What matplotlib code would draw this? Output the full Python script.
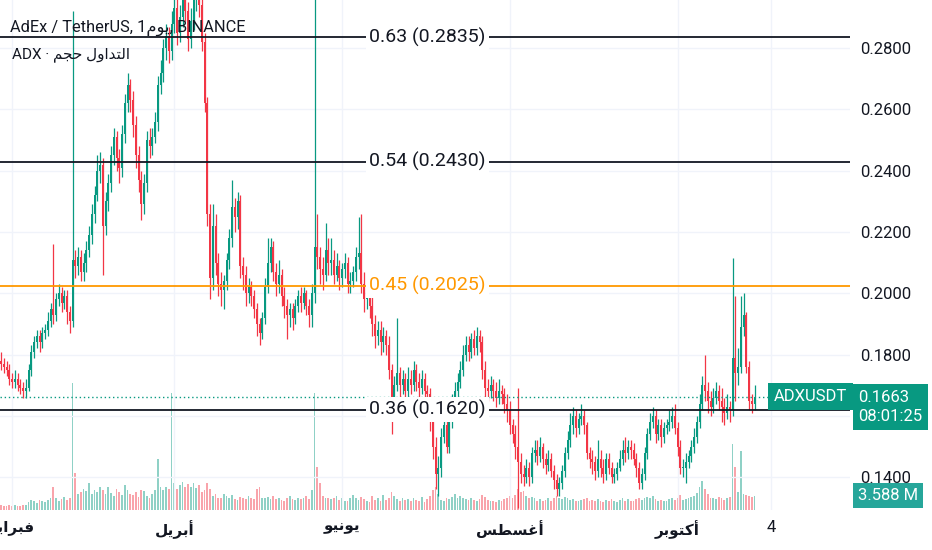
import matplotlib
matplotlib.use("Agg")
import matplotlib.pyplot as plt
from matplotlib.transforms import blended_transform_factory
import numpy as np
import pandas as pd

plt.rcParams['font.family'] = ['Roboto', 'DejaVu Sans']

# daily candles, ADX/USDT
start_date = '2023-01-28'
first_open = 0.178

closes = [
    0.177, 0.176, 0.175, 0.172, 0.171, 0.172, 0.170, 0.169, 0.168, 0.169,
    0.175, 0.181, 0.184, 0.186, 0.184, 0.187, 0.188, 0.191, 0.195, 0.193,
    0.198, 0.200, 0.197, 0.199, 0.194, 0.191, 0.211, 0.209, 0.212, 0.207,
    0.210, 0.214, 0.219, 0.226, 0.232, 0.240, 0.242, 0.222, 0.230, 0.236,
    0.245, 0.251, 0.244, 0.241, 0.252, 0.262, 0.268, 0.263, 0.255, 0.245,
    0.237, 0.229, 0.236, 0.250, 0.248, 0.251, 0.256, 0.268, 0.272, 0.280,
    0.284, 0.279, 0.288, 0.293, 0.285, 0.290, 0.298, 0.292, 0.283, 0.289,
    0.296, 0.300, 0.294, 0.282, 0.262, 0.226, 0.205, 0.222, 0.210, 0.203,
    0.201, 0.204, 0.211, 0.218, 0.228, 0.225, 0.230, 0.209, 0.206, 0.200,
    0.202, 0.199, 0.195, 0.190, 0.187, 0.192, 0.202, 0.210, 0.215, 0.207,
    0.203, 0.206, 0.199, 0.196, 0.193, 0.195, 0.192, 0.196, 0.199, 0.197,
    0.200, 0.196, 0.193, 0.200, 0.215, 0.212, 0.208, 0.206, 0.214, 0.210,
    0.211, 0.206, 0.209, 0.205, 0.208, 0.210, 0.203, 0.204, 0.207, 0.212,
    0.213, 0.203, 0.198, 0.200, 0.196, 0.190, 0.186, 0.188, 0.184, 0.186,
    0.183, 0.175, 0.166, 0.170, 0.174, 0.170, 0.172, 0.168, 0.172, 0.170,
    0.175, 0.171, 0.169, 0.172, 0.168, 0.167, 0.158, 0.150, 0.141, 0.143,
    0.153, 0.157, 0.150, 0.158, 0.164, 0.168, 0.171, 0.175, 0.180, 0.183,
    0.181, 0.185, 0.182, 0.186, 0.184, 0.175, 0.169, 0.168, 0.170, 0.168,
    0.166, 0.168, 0.167, 0.164, 0.162, 0.157, 0.154, 0.150, 0.145, 0.141,
    0.140, 0.143, 0.140, 0.148, 0.149, 0.147, 0.150, 0.146, 0.144, 0.146,
    0.142, 0.139, 0.136, 0.138, 0.142, 0.148, 0.152, 0.157, 0.160, 0.156,
    0.159, 0.160, 0.157, 0.148, 0.146, 0.145, 0.142, 0.146, 0.143, 0.141,
    0.146, 0.143, 0.140, 0.141, 0.143, 0.146, 0.149, 0.148, 0.150, 0.149,
    0.146, 0.143, 0.138, 0.141, 0.148, 0.154, 0.158, 0.160, 0.154, 0.157,
    0.153, 0.156, 0.157, 0.158, 0.160, 0.156, 0.150, 0.143, 0.143, 0.145,
    0.147, 0.150, 0.153, 0.158, 0.164, 0.170, 0.168, 0.165, 0.163, 0.166,
    0.168, 0.165, 0.163, 0.161, 0.163, 0.162, 0.179, 0.174, 0.176, 0.189,
    0.193, 0.176, 0.165, 0.164, 0.1663,
]

highs = [
    0.181, 0.179, 0.178, 0.177, 0.174, 0.175, 0.174, 0.172, 0.171, 0.172,
    0.177, 0.183, 0.186, 0.188, 0.188, 0.189, 0.190, 0.194, 0.197, 0.216,
    0.200, 0.203, 0.202, 0.201, 0.201, 0.196, 0.292, 0.214, 0.215, 0.214,
    0.213, 0.217, 0.222, 0.229, 0.235, 0.245, 0.246, 0.244, 0.233, 0.239,
    0.248, 0.254, 0.253, 0.247, 0.255, 0.265, 0.272, 0.270, 0.266, 0.258,
    0.248, 0.240, 0.239, 0.253, 0.254, 0.254, 0.259, 0.271, 0.276, 0.283,
    0.288, 0.287, 0.292, 0.298, 0.296, 0.294, 0.305, 0.302, 0.295, 0.293,
    0.301, 0.306, 0.303, 0.297, 0.285, 0.264, 0.229, 0.229, 0.226, 0.213,
    0.207, 0.206, 0.213, 0.221, 0.237, 0.231, 0.233, 0.232, 0.212, 0.209,
    0.205, 0.204, 0.201, 0.197, 0.192, 0.194, 0.205, 0.218, 0.218, 0.217,
    0.210, 0.211, 0.208, 0.202, 0.198, 0.197, 0.197, 0.198, 0.201, 0.202,
    0.202, 0.201, 0.198, 0.203, 0.310, 0.226, 0.215, 0.212, 0.223, 0.218,
    0.218, 0.214, 0.213, 0.211, 0.210, 0.213, 0.212, 0.207, 0.209, 0.215,
    0.225, 0.226, 0.207, 0.203, 0.202, 0.199, 0.193, 0.191, 0.191, 0.189,
    0.188, 0.186, 0.177, 0.173, 0.192, 0.176, 0.175, 0.174, 0.176, 0.175,
    0.178, 0.177, 0.174, 0.175, 0.174, 0.170, 0.169, 0.160, 0.153, 0.147,
    0.156, 0.160, 0.159, 0.161, 0.167, 0.171, 0.174, 0.178, 0.183, 0.186,
    0.186, 0.187, 0.188, 0.189, 0.188, 0.186, 0.178, 0.172, 0.173, 0.172,
    0.171, 0.172, 0.170, 0.169, 0.167, 0.165, 0.159, 0.157, 0.169, 0.148,
    0.144, 0.146, 0.145, 0.150, 0.152, 0.152, 0.153, 0.151, 0.148, 0.149,
    0.148, 0.144, 0.141, 0.140, 0.144, 0.150, 0.155, 0.161, 0.163, 0.162,
    0.161, 0.164, 0.162, 0.158, 0.150, 0.149, 0.147, 0.152, 0.149, 0.146,
    0.148, 0.148, 0.145, 0.143, 0.145, 0.149, 0.152, 0.153, 0.152, 0.152,
    0.151, 0.148, 0.145, 0.143, 0.150, 0.156, 0.161, 0.163, 0.162, 0.159,
    0.159, 0.158, 0.159, 0.162, 0.163, 0.164, 0.158, 0.152, 0.146, 0.148,
    0.149, 0.152, 0.156, 0.160, 0.167, 0.173, 0.180, 0.171, 0.168, 0.169,
    0.171, 0.170, 0.169, 0.166, 0.167, 0.165, 0.2115, 0.199, 0.182, 0.199,
    0.200, 0.194, 0.178, 0.167, 0.170,
]

lows = [
    0.175, 0.174, 0.173, 0.170, 0.169, 0.169, 0.168, 0.167, 0.166, 0.166,
    0.168, 0.173, 0.179, 0.182, 0.181, 0.182, 0.185, 0.186, 0.189, 0.190,
    0.191, 0.196, 0.194, 0.195, 0.190, 0.187, 0.189, 0.205, 0.206, 0.204,
    0.204, 0.207, 0.212, 0.216, 0.223, 0.230, 0.236, 0.206, 0.219, 0.227,
    0.233, 0.242, 0.240, 0.236, 0.238, 0.249, 0.259, 0.259, 0.251, 0.241,
    0.233, 0.224, 0.226, 0.233, 0.244, 0.245, 0.249, 0.253, 0.265, 0.269,
    0.276, 0.275, 0.276, 0.285, 0.281, 0.282, 0.287, 0.289, 0.279, 0.280,
    0.286, 0.292, 0.290, 0.279, 0.259, 0.222, 0.198, 0.201, 0.206, 0.199,
    0.196, 0.195, 0.201, 0.208, 0.215, 0.220, 0.221, 0.205, 0.201, 0.196,
    0.197, 0.196, 0.192, 0.186, 0.183, 0.185, 0.190, 0.200, 0.207, 0.204,
    0.199, 0.200, 0.196, 0.192, 0.185, 0.189, 0.188, 0.190, 0.194, 0.194,
    0.195, 0.193, 0.189, 0.189, 0.197, 0.208, 0.203, 0.201, 0.204, 0.206,
    0.206, 0.203, 0.204, 0.201, 0.202, 0.205, 0.200, 0.200, 0.202, 0.204,
    0.208, 0.200, 0.194, 0.195, 0.192, 0.186, 0.182, 0.183, 0.180, 0.181,
    0.180, 0.172, 0.154, 0.163, 0.168, 0.166, 0.167, 0.165, 0.166, 0.167,
    0.168, 0.168, 0.166, 0.167, 0.165, 0.164, 0.155, 0.146, 0.136, 0.134,
    0.140, 0.151, 0.148, 0.148, 0.156, 0.162, 0.165, 0.169, 0.173, 0.178,
    0.178, 0.179, 0.180, 0.180, 0.181, 0.172, 0.166, 0.165, 0.166, 0.165,
    0.163, 0.164, 0.164, 0.161, 0.158, 0.154, 0.151, 0.146, 0.130, 0.138,
    0.137, 0.138, 0.137, 0.138, 0.145, 0.144, 0.145, 0.143, 0.141, 0.142,
    0.140, 0.136, 0.134, 0.134, 0.136, 0.140, 0.146, 0.150, 0.154, 0.153,
    0.154, 0.157, 0.154, 0.146, 0.143, 0.141, 0.139, 0.140, 0.140, 0.138,
    0.139, 0.141, 0.138, 0.138, 0.139, 0.142, 0.144, 0.145, 0.146, 0.146,
    0.144, 0.140, 0.136, 0.136, 0.139, 0.146, 0.152, 0.156, 0.151, 0.152,
    0.150, 0.151, 0.154, 0.155, 0.156, 0.154, 0.147, 0.141, 0.140, 0.138,
    0.143, 0.145, 0.148, 0.151, 0.156, 0.162, 0.165, 0.161, 0.160, 0.161,
    0.164, 0.162, 0.158, 0.157, 0.159, 0.158, 0.160, 0.165, 0.170, 0.174,
    0.186, 0.174, 0.162, 0.161, 0.162,
]

# volume in millions
volumes = [
    1.2, 1.0, 1.1, 1.3, 1.0, 1.2, 0.9, 1.1, 1.4, 1.2,
    2.0, 2.6, 2.4, 1.8, 2.5, 2.2, 2.0, 2.6, 3.0, 6.0,
    3.0, 2.4, 2.8, 3.4, 2.6, 3.0, 32.5, 9.5, 4.0, 4.5,
    5.5, 4.8, 7.0, 4.2, 5.0, 4.6, 6.0, 5.2, 4.0, 5.8,
    4.4, 3.6, 5.5, 4.6, 3.8, 6.5, 5.0, 4.2, 3.8, 4.5,
    3.4, 5.0, 4.8, 3.6, 3.0, 4.2, 5.0, 13.0, 6.0, 5.2,
    5.8, 5.5, 30.0, 7.0, 5.4, 6.4, 7.2, 6.0, 6.6, 5.8,
    6.8, 5.6, 6.5, 4.6, 5.0, 6.8, 5.5, 3.6, 4.0, 3.2,
    3.0, 4.0, 3.5, 3.2, 3.8, 2.9, 2.6, 3.3, 3.0, 2.8,
    3.5, 3.0, 2.8, 5.5, 6.0, 3.2, 3.0, 3.4, 2.7, 3.6,
    2.7, 3.0, 2.6, 2.4, 3.2, 3.5, 2.8, 2.6, 3.0, 2.8,
    3.2, 3.6, 2.9, 5.0, 30.0, 11.0, 7.0, 3.5, 3.2, 3.0,
    2.8, 3.0, 3.5, 2.6, 3.0, 2.4, 2.2, 3.2, 3.8, 3.0,
    2.6, 3.4, 2.8, 2.2, 2.0, 3.6, 2.5, 3.0, 2.4, 3.8,
    2.6, 3.0, 4.5, 3.6, 2.8, 2.2, 3.2, 2.5, 2.8, 2.4,
    3.0, 2.6, 2.2, 3.4, 2.0, 2.8, 3.6, 5.0, 6.0, 4.2,
    2.6, 2.4, 3.0, 2.8, 3.4, 4.0, 3.2, 3.6, 3.0, 2.8,
    2.5, 3.2, 2.6, 2.4, 2.8, 3.8, 3.4, 2.6, 2.2, 2.4,
    2.0, 2.6, 2.4, 2.8, 3.0, 3.6, 3.0, 3.8, 5.5, 4.5,
    4.8, 3.6, 3.0, 3.4, 3.0, 2.4, 2.8, 2.2, 2.6, 3.0,
    2.4, 3.2, 3.6, 3.0, 2.8, 3.4, 3.0, 2.6, 2.8, 2.4,
    2.2, 2.6, 2.8, 3.0, 2.4, 2.6, 2.2, 2.8, 2.4, 2.0,
    2.6, 2.2, 2.8, 2.4, 2.0, 2.6, 3.0, 2.4, 2.8, 2.2,
    2.4, 2.8, 3.2, 2.6, 3.0, 3.4, 3.2, 3.6, 2.8, 2.4,
    2.6, 2.2, 2.4, 2.8, 3.0, 2.6, 3.2, 3.8, 2.6, 2.8,
    3.0, 3.4, 3.6, 4.4, 6.0, 7.5, 5.5, 4.0, 3.2, 3.0,
    2.8, 3.4, 3.0, 2.6, 3.0, 3.4, 17.0, 11.0, 4.5, 15.0,
    4.2, 3.8, 3.6, 3.4, 3.588,
]

fib_ratios = ['0.63', '0.54', '0.45', '0.36']
fib_levels = [0.2835, 0.2430, 0.2025, 0.1620]
fib_colors = ['#131722', '#131722', '#ff9800', '#131722']

price_ticks = [0.14, 0.16, 0.18, 0.20, 0.22, 0.24, 0.26, 0.28]
# 0.1600 sits under the last-price tag in the original
price_tick_labels = ['0.1400', '', '0.1800', '0.2000', '0.2200', '0.2400', '0.2600', '0.2800']

# Arabic month names (presentation forms, visual order)
tick_dates = ['2023-02-01', '2023-04-01', '2023-06-01', '2023-08-01', '2023-10-01', '2023-11-04']
tick_labels = ['\ufeae\ufef3\ufe8d\ufeae\ufe92\ufed3',   # فبراير
               '\ufede\ufef3\ufeae\ufe91\ufe83',         # أبريل
               '\ufeee\ufef4\ufee7\ufeee\ufef3',         # يونيو
               '\ufeb2\ufec4\ufeb4\ufecf\ufe83',         # أغسطس
               '\ufeae\ufe91\ufeee\ufe98\ufedb\ufe83',   # أكتوبر
               '4']

title = 'AdEx / TetherUS, 1\ufee1\ufeee\ufef3, BINANCE'
vol_title = 'ADX \u00b7 \ufee2\ufea0\ufea3 \ufedd\ufeed\ufe8d\ufeaa\ufe98\ufedf\ufe8d'
symbol = 'ADXUSDT'
countdown = '08:01:25'

UP = '#089981'
DOWN = '#f23645'
TXT = '#131722'
GRID = '#f0f3fa'

c = np.array(closes)
o = np.array([first_open] + closes[:-1])
h = np.array(highs)
l = np.array(lows)
v = np.array(volumes)
x = np.arange(len(c))
up = c >= o
cols = np.where(up, UP, DOWN)

t0 = pd.Timestamp(start_date)
tick_pos = [(pd.Timestamp(d) - t0).days for d in tick_dates]

fig = plt.figure(figsize=(9.32, 5.5), dpi=100)
ax = fig.add_axes([0, 1 - 510 / 550, 850 / 932, 510 / 550])
axv = ax.twinx()
ax.set_zorder(axv.get_zorder() + 1)
ax.patch.set_visible(False)

# volume
axv.bar(x, v, width=0.62, color=cols, alpha=0.45, linewidth=0)
axv.set_ylim(0, 130.7)
axv.set_axis_off()

# candles
ax.vlines(x, l, h, colors=cols, linewidth=0.9, zorder=3)
ax.bar(x, np.maximum(np.abs(c - o), 0.0004), bottom=np.minimum(o, c),
       width=0.8, color=cols, linewidth=0, zorder=3)

ax.set_xlim(-0.4, -0.4 + 850 / 2.75)
ax.set_ylim(0.1293, 0.2957)

for s in ax.spines.values():
    s.set_visible(False)

ax.yaxis.tick_right()
ax.set_yticks(price_ticks)
ax.set_yticklabels(price_tick_labels)
ax.tick_params(axis='y', length=0, pad=7, labelsize=12, labelcolor=TXT)
ax.set_xticks(tick_pos)
ax.set_xticklabels(tick_labels)
ax.tick_params(axis='x', length=0, pad=7, labelsize=11, labelcolor=TXT)
for lab in ax.get_xticklabels():
    if lab.get_text() == '4':
        lab.set_fontsize(12)
    else:
        lab.set_fontweight('bold')
ax.grid(True, color=GRID, linewidth=1, zorder=0)
ax.set_axisbelow(True)

trans = blended_transform_factory(ax.transAxes, ax.transData)

# fib levels
for r, lvl, col in zip(fib_ratios, fib_levels, fib_colors):
    ax.axhline(lvl, color=col, linewidth=1.3, zorder=4)
    ax.text(0.503, lvl, '%s (%.4f)' % (r, lvl), transform=trans, ha='center', va='center',
            fontsize=14, color=col, zorder=5,
            bbox=dict(boxstyle='square,pad=0.15', facecolor='white', edgecolor='none'))

# last price line + labels
last = c[-1]
ax.axhline(last, color=UP, linewidth=1, linestyle=(0, (1, 2)), zorder=4)
ax.text(0.997, last, symbol, transform=trans, ha='right', va='center', fontsize=12,
        color='white', zorder=6,
        bbox=dict(boxstyle='square,pad=0.35', facecolor=UP, edgecolor='none'))
ax.annotate('%.4f\n%s' % (last, countdown), xy=(1, last), xycoords=trans,
            xytext=(6, 5), textcoords='offset points', ha='left', va='top',
            fontsize=12, color='white', linespacing=1.35, zorder=6, annotation_clip=False,
            bbox=dict(boxstyle='square,pad=0.35', facecolor=UP, edgecolor='none'))

vtrans = blended_transform_factory(ax.transAxes, axv.transData)
ax.annotate('%.3f M' % v[-1], xy=(1, v[-1]), xycoords=vtrans,
            xytext=(6, 0), textcoords='offset points', ha='left', va='center',
            fontsize=12, color='white', zorder=6, annotation_clip=False,
            bbox=dict(boxstyle='square,pad=0.3', facecolor='#26a69a', edgecolor='none'))

# legend texts
ax.text(0.012, 0.945, title, transform=ax.transAxes, fontsize=11.8, color=TXT,
        va='center', ha='left', zorder=7)
ax.text(0.014, 0.892, vol_title, transform=ax.transAxes, fontsize=11, color=TXT,
        va='center', ha='left', zorder=7)

fig.savefig('out.png', dpi=100, facecolor='white')
